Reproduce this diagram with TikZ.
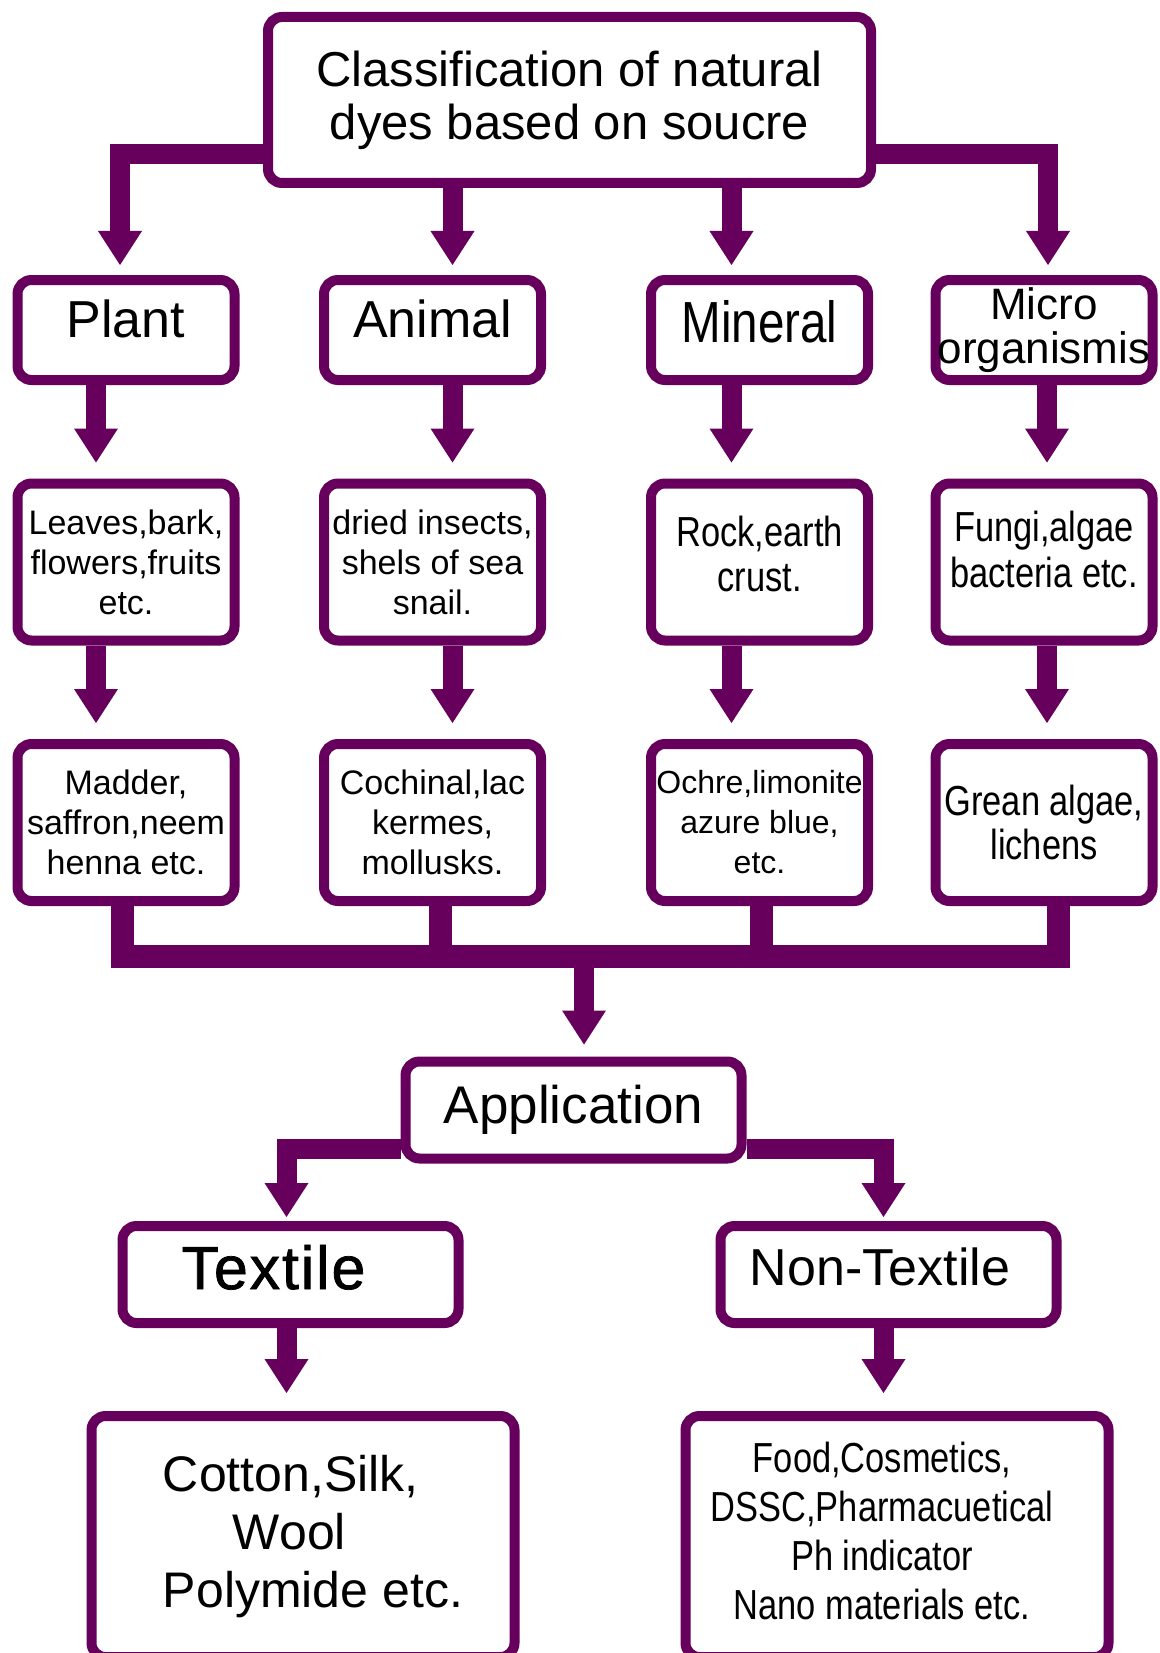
\documentclass[tikz,border=0pt]{standalone}
\usepackage{fontspec}
\setmainfont{Liberation Sans}
\newfontfamily\narrowfont[FakeStretch=0.82]{Liberation Sans}
\newfontfamily\heavyfont[FakeBold=1.2,LetterSpace=3]{Liberation Sans}
\usetikzlibrary{arrows.meta}
\usetikzlibrary{positioning}
\usetikzlibrary{backgrounds}

\definecolor{dyepurple}{RGB}{102,0,92}
\newcommand{\fsize}[2]{\fontsize{#1}{#2}\selectfont}

\begin{document}
\begin{tikzpicture}[
	x=1pt, y=-1pt,
	box/.style={draw=dyepurple, line width=10pt, rounded corners=14pt,
		fill=white, align=center, inner sep=2pt},
	kindbox/.style={box, minimum width=217pt, minimum height=100pt},
	examplebox/.style={box, minimum width=217pt, minimum height=157pt},
	appbox/.style={box, minimum width=336pt, minimum height=97pt},
	bigbox/.style={box, minimum width=423pt, minimum height=241pt},
	flow/.style={draw=dyepurple, line width=20pt,
		-{Triangle[width=44pt,length=34pt,line width=0pt]}},
	pipe/.style={draw=dyepurple, line width=23pt}]

\useasboundingbox (0,0) rectangle (1159,1653);
\clip (0,0) rectangle (1159,1653);

% Title
\node[box, minimum width=603pt, minimum height=166pt, font=\fsize{49}{53}]
	(title) at (569.5,100) {Classification of natural\\dyes based on soucre};

% Sources
\node[kindbox, text depth=22pt, font=\fsize{52}{60}] (plant) at (126,330) {Plant};
\node[kindbox, text depth=22pt, font=\fsize{52}{60}] (animal) at (432.5,330) {Animal};
\node[kindbox, text depth=17pt, font=\narrowfont\fsize{58}{60}] (mineral) at (759.5,330) {Mineral};
\node[kindbox, font=\fsize{44}{44}] (micro) at (1044,330) {Micro\\organismis};

% Parts used
\node[examplebox, font=\fsize{34}{40}] (leaves) at (126,562)
	{Leaves,bark,\\flowers,fruits\\etc.};
\node[examplebox, font=\fsize{34}{40}] (insects) at (432.5,562)
	{dried insects,\\shels of sea\\snail.};
\node[examplebox, text depth=17pt, font=\narrowfont\fsize{42}{45}] (rock) at (759.5,562)
	{Rock,earth\\crust.};
\node[examplebox, text depth=25pt, font=\narrowfont\fsize{42}{46}] (fungi) at (1044,562)
	{Fungi,algae\\bacteria etc.};

% Dyes
\node[examplebox, font=\fsize{34}{40}] (madder) at (126,822.5)
	{Madder,\\saffron,neem\\henna etc.};
\node[examplebox, font=\fsize{34}{40}] (cochinal) at (432.5,822.5)
	{Cochinal,lac\\kermes,\\mollusks.};
\node[examplebox, font=\fsize{32}{40}] (ochre) at (759.5,822.5)
	{Ochre,limonite\\azure blue,\\etc.};
\node[examplebox, font=\narrowfont\fsize{42}{44}] (grean) at (1044,822.5)
	{Grean algae,\\lichens};

% Application
\node[appbox, font=\fsize{53}{60}] (application) at (573.5,1110) {Application};
\node[appbox, text depth=15pt, font=\heavyfont\fsize{61}{60}] (textile) at (290.5,1274.5)
	{Textile\hspace*{34pt}};
\node[appbox, text depth=15pt, font=\fsize{52}{60}] (nontextile) at (888.5,1274.5)
	{Non-Textile\hspace*{17pt}};

\node[bigbox, align=left, font=\fsize{50}{58}] (cotton) at (303,1536.5)
	{\hspace*{20pt}Cotton,Silk,\\\hspace*{90pt}Wool\\\hspace*{20pt}Polymide etc.};
\node[bigbox, font=\narrowfont\fsize{42}{49}] (food) at (897,1536.5)
	{\begin{tabular}{@{}c@{\hspace{30pt}}}
	Food,Cosmetics,\\DSSC,Pharmacuetical\\Ph indicator\\Nano materials etc.
	\end{tabular}};

\begin{scope}[on background layer]
% Title to sources
\draw[flow] ([yshift=-54pt]title.west) -| ([xshift=-6pt,yshift=10pt]plant.north);
\draw[flow] ([xshift=20pt]animal.north |- title.south) -- ([xshift=20pt,yshift=10pt]animal.north);
\draw[flow] ([xshift=-28pt]mineral.north |- title.south) -- ([xshift=-28pt,yshift=10pt]mineral.north);
\draw[flow] ([yshift=-54pt]title.east) -| ([xshift=4pt,yshift=10pt]micro.north);

% Sources to parts
\draw[flow] ([xshift=-30pt]plant.south) -- ([xshift=-30pt,yshift=16pt]leaves.north);
\draw[flow] ([xshift=20pt]animal.south) -- ([xshift=20pt,yshift=16pt]insects.north);
\draw[flow] ([xshift=-28pt]mineral.south) -- ([xshift=-28pt,yshift=16pt]rock.north);
\draw[flow] ([xshift=3pt]micro.south) -- ([xshift=3pt,yshift=16pt]fungi.north);

% Parts to dyes
\draw[flow] ([xshift=-30pt]leaves.south) -- ([xshift=-30pt,yshift=16pt]madder.north);
\draw[flow] ([xshift=20pt]insects.south) -- ([xshift=20pt,yshift=16pt]cochinal.north);
\draw[flow] ([xshift=-28pt]rock.south) -- ([xshift=-28pt,yshift=16pt]ochre.north);
\draw[flow] ([xshift=3pt]fungi.south) -- ([xshift=3pt,yshift=16pt]grean.north);

% Collecting bar
\coordinate (merge) at (584,956);
\draw[pipe] ([xshift=-4pt]madder.south) |- (merge) -| ([xshift=14pt]grean.south);
\draw[pipe] ([xshift=8pt]cochinal.south) -- ([xshift=8pt]cochinal.south |- merge);
\draw[pipe] ([xshift=2pt]ochre.south) -- ([xshift=2pt]ochre.south |- merge);
\draw[flow] (merge) -- ([yshift=12pt]application.north -| merge);

% Application branches
\draw[flow] ([yshift=-39pt]application.west) -| ([xshift=-4pt,yshift=4pt]textile.north);
\draw[flow] ([yshift=-39pt]application.east) -| ([xshift=-5pt,yshift=4pt]nontextile.north);
\draw[flow] ([xshift=-4pt]textile.south) -- ([xshift=-4pt,yshift=18pt]textile.south |- cotton.north);
\draw[flow] ([xshift=-5pt]nontextile.south) -- ([xshift=-5pt,yshift=18pt]nontextile.south |- food.north);
\end{scope}

\end{tikzpicture}
\end{document}
